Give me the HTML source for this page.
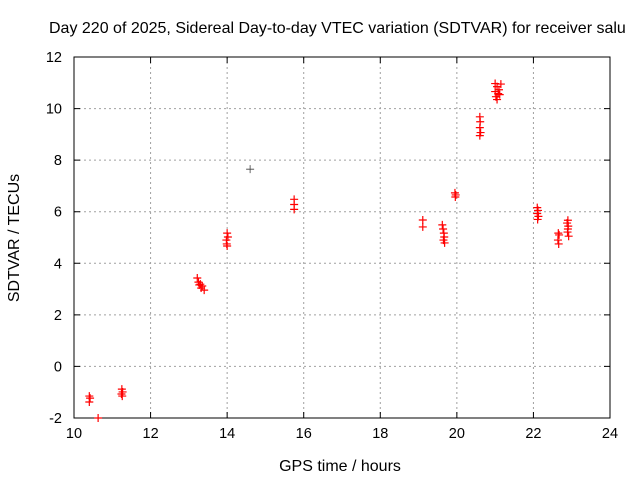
<!DOCTYPE html>
<html><head><meta charset="utf-8"><style>
html,body{margin:0;padding:0;background:#fff;}
svg{display:block;font-family:"Liberation Sans",sans-serif;}
</style></head><body>
<svg id="chart" width="640" height="480">
<text x="49" y="33" font-size="16" fill="#000">Day 220 of 2025, Sidereal Day-to-day VTEC variation (SDTVAR) for receiver salu</text>
<g id="grid"></g><g id="axes"></g><g id="marks"></g>
<text x="340" y="471" font-size="16" text-anchor="middle">GPS time / hours</text>
<text transform="translate(19,238) rotate(-90)" font-size="16" text-anchor="middle">SDTVAR / TECUs</text>
</svg>
<script>
const xTicks=[10,12,14,16,18,20,22,24];
const yTicks=[-2,0,2,4,6,8,10,12];
const redX=[10.4,10.42,10.4,10.63,11.25,11.27,11.24,11.26,13.22,13.25,13.3,13.27,13.35,13.32,13.4,14.0,14.02,13.98,13.99,14.0,15.75,15.75,15.75,19.11,19.11,19.62,19.64,19.66,19.67,19.65,19.68,19.95,19.97,19.96,20.6,20.61,20.6,20.62,20.6,21.0,21.15,21.05,21.1,21.0,21.08,21.12,21.02,21.05,22.1,22.12,22.1,22.13,22.11,22.65,22.67,22.64,22.66,22.9,22.88,22.91,22.9,22.89,22.92];
const redY=[-1.15,-1.23,-1.38,-2.0,-0.88,-0.99,-1.07,-1.15,3.43,3.27,3.19,3.16,3.12,3.04,2.96,5.17,5.02,4.9,4.75,4.67,6.48,6.28,6.09,5.68,5.41,5.49,5.33,5.17,5.02,4.9,4.79,6.73,6.65,6.57,9.68,9.49,9.26,9.07,8.95,10.97,10.95,10.85,10.73,10.66,10.58,10.54,10.46,10.35,6.16,6.05,5.93,5.82,5.7,5.17,5.1,4.9,4.75,5.67,5.56,5.44,5.33,5.21,5.05];
const blackX=[14.6];
const blackY=[7.65];
const L=74,R=610,T=57,B=418;
const xs=v=>L+(v-10)/14*(R-L);
const ys=v=>B-(v+2)/14*(B-T);
const NS="http://www.w3.org/2000/svg";
function mk(tag,attrs,parent){const e=document.createElementNS(NS,tag);for(const k in attrs)e.setAttribute(k,attrs[k]);document.getElementById(parent).appendChild(e);return e;}
xTicks.forEach(t=>{
  if(t>10&&t<24){const g=mk('line',{x1:xs(t),x2:xs(t),y1:T,y2:B,stroke:'#a0a0a0','stroke-dasharray':'2,3'},'grid');
  
  }
  const tk=mk('path',{d:`M${xs(t)},${B}v-6M${xs(t)},${T}v6`,stroke:'#000'},'axes');
  
  
  const lb=mk('text',{x:xs(t),y:B+20,'font-size':'14.5','text-anchor':'middle'},'axes');lb.textContent=t;
  
  
});
yTicks.forEach(t=>{
  if(t>-2&&t<12){const g=mk('line',{x1:L,x2:R,y1:ys(t),y2:ys(t),stroke:'#a0a0a0','stroke-dasharray':'2,3'},'grid');
  
  }
  const tk=mk('path',{d:`M${L},${ys(t)}h6M${R},${ys(t)}h-6`,stroke:'#000'},'axes');
  
  
  const lb=mk('text',{x:L-12,y:ys(t)+5,'font-size':'14.5','text-anchor':'end'},'axes');lb.textContent=t;
  
  
});
const fr=mk('rect',{x:L,y:T,width:R-L,height:B-T,fill:'none',stroke:'#000'},'axes');


function plus(x,y,c,w,n){const p=mk('path',{d:`M${xs(x)-4},${ys(y)}h8M${xs(x)},${ys(y)-4}v8`,stroke:c,'stroke-width':w},'marks');
  
  }
redX.forEach((x,i)=>plus(x,redY[i],'#ff0000','1.2','sdtvar-point'));
blackX.forEach((x,i)=>plus(x,blackY[i],'#404040','0.8','sdtvar-outlier-point'));
</script>
</body></html>
